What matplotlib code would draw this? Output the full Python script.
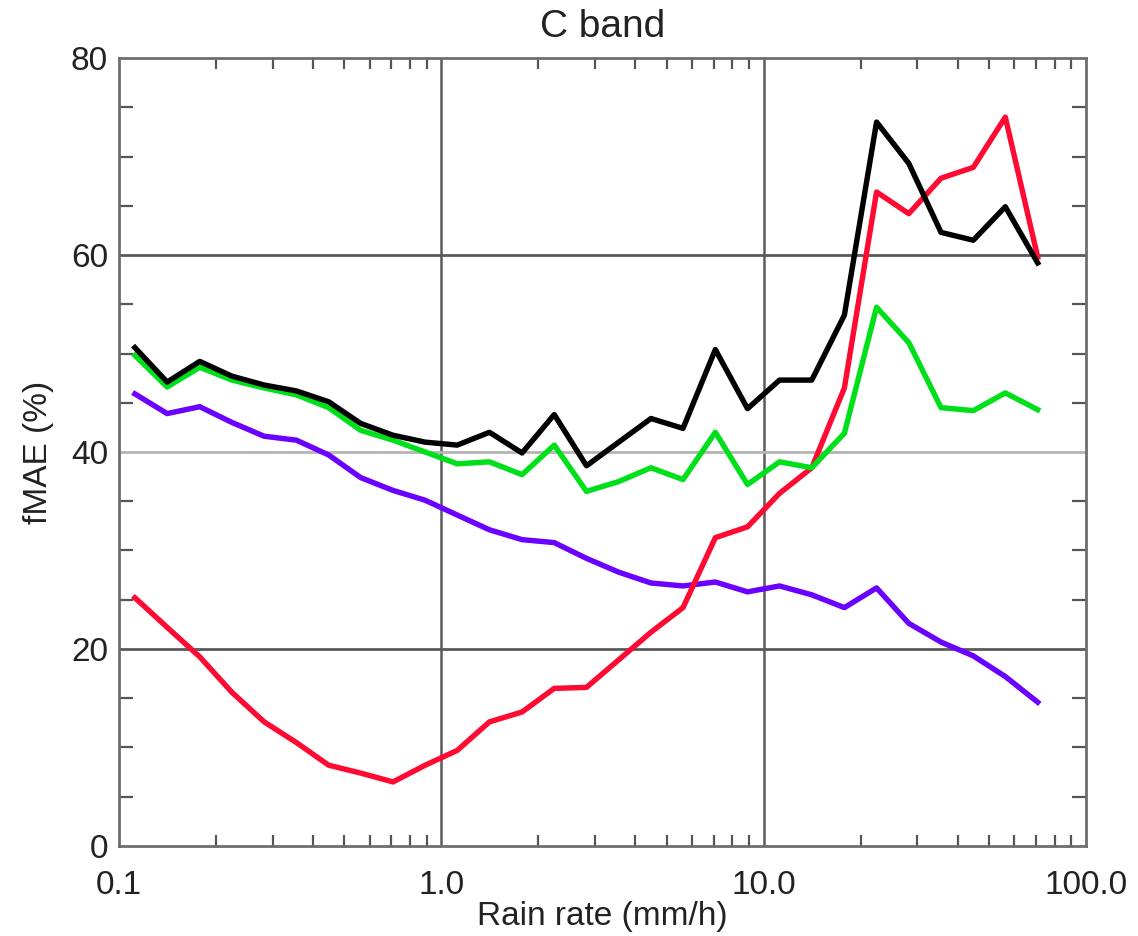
import numpy as np
import matplotlib.pyplot as plt
from matplotlib.ticker import FixedLocator, NullFormatter

plt.rcParams['font.family'] = ['Liberation Sans', 'DejaVu Sans']

# rain rate bin centres (mm/h)
rain_rate = [0.112, 0.141, 0.178, 0.224, 0.282, 0.355, 0.447, 0.562, 0.708, 0.891,
             1.12, 1.41, 1.78, 2.24, 2.82, 3.55, 4.47, 5.62, 7.08, 8.91,
             11.2, 14.1, 17.8, 22.4, 28.2, 35.5, 44.7, 56.2, 70.8]

fmae_black = [50.6, 47.1, 49.2, 47.7, 46.8, 46.2, 45.1, 42.9, 41.7, 41.0,
              40.7, 42.0, 39.9, 43.8, 38.6, 41.0, 43.4, 42.4, 50.4, 44.4,
              47.3, 47.3, 53.9, 73.5, 69.3, 62.3, 61.5, 64.9, 59.2]

fmae_green = [49.8, 46.6, 48.6, 47.3, 46.5, 45.8, 44.5, 42.2, 41.2, 40.0,
              38.8, 39.0, 37.7, 40.7, 36.0, 37.0, 38.4, 37.2, 42.0, 36.7,
              39.0, 38.4, 41.9, 54.7, 51.1, 44.5, 44.2, 46.0, 44.3]

fmae_purple = [45.9, 43.9, 44.6, 43.0, 41.6, 41.2, 39.7, 37.4, 36.1, 35.1,
               33.6, 32.1, 31.1, 30.8, 29.2, 27.8, 26.7, 26.4, 26.8, 25.8,
               26.4, 25.5, 24.2, 26.2, 22.6, 20.7, 19.3, 17.2, 14.6]

fmae_red = [25.2, 22.2, 19.2, 15.6, 12.6, 10.5, 8.2, 7.4, 6.5, 8.2,
            9.7, 12.6, 13.6, 16.0, 16.1, 18.9, 21.7, 24.2, 31.3, 32.4,
            35.8, 38.4, 46.5, 66.4, 64.2, 67.8, 68.9, 74.0, 59.8]

fig = plt.figure(figsize=(11.38, 9.36), dpi=100)
ax = fig.add_axes([0.1046, 0.0962, 0.8497, 0.8418])

grid_dark = '#5a5a5a'
for gx in [1.0, 10.0]:
    ax.axvline(gx, color=grid_dark, lw=1.8, zorder=1)
for gy, c in [(20, grid_dark), (40, '#b4b4b4'), (60, grid_dark)]:
    ax.axhline(gy, color=c, lw=2.0, zorder=1)

ax.plot(rain_rate, fmae_purple, color='#6a00ff', lw=3.9, zorder=3)
ax.plot(rain_rate, fmae_red, color='#ff0a32', lw=3.9, zorder=3)
ax.plot(rain_rate, fmae_green, color='#00e01a', lw=3.9, zorder=3)
ax.plot(rain_rate, fmae_black, color='black', lw=3.9, zorder=4)

ax.set_xscale('log')
ax.set_xlim(0.1, 100)
ax.set_ylim(0, 80)

ax.xaxis.set_major_locator(FixedLocator([0.1, 1, 10, 100]))
ax.set_xticklabels(['0.1', '1.0', '10.0', '100.0'])
minor_x = [m * d for d in [0.1, 1, 10] for m in range(2, 10)]
ax.xaxis.set_minor_locator(FixedLocator(minor_x))
ax.xaxis.set_minor_formatter(NullFormatter())

ax.yaxis.set_major_locator(FixedLocator([0, 20, 40, 60, 80]))
ax.yaxis.set_minor_locator(FixedLocator([v for v in range(5, 80, 5) if v % 20 != 0]))

ax.tick_params(which='major', length=0, labelsize=24, colors='#222222')
ax.tick_params(axis='x', which='major', pad=17)
ax.tick_params(axis='y', which='major', pad=8)
ax.tick_params(axis='x', which='minor', direction='in', length=8, width=1.6,
               top=True, color='#555555')
ax.tick_params(axis='y', which='minor', direction='in', length=10, width=1.6,
               right=True, color='#555555')

for s in ax.spines.values():
    s.set_color('#6e6e6e')
    s.set_linewidth(2.0)

ax.set_title('C band', fontsize=28, pad=15, color='#222222')
ax.set_xlabel('Rain rate (mm/h)', fontsize=24, labelpad=0, color='#222222')
ax.set_ylabel('fMAE (%)', fontsize=24, labelpad=12, color='#222222')

fig.savefig('out.png', dpi=100, facecolor='white')
